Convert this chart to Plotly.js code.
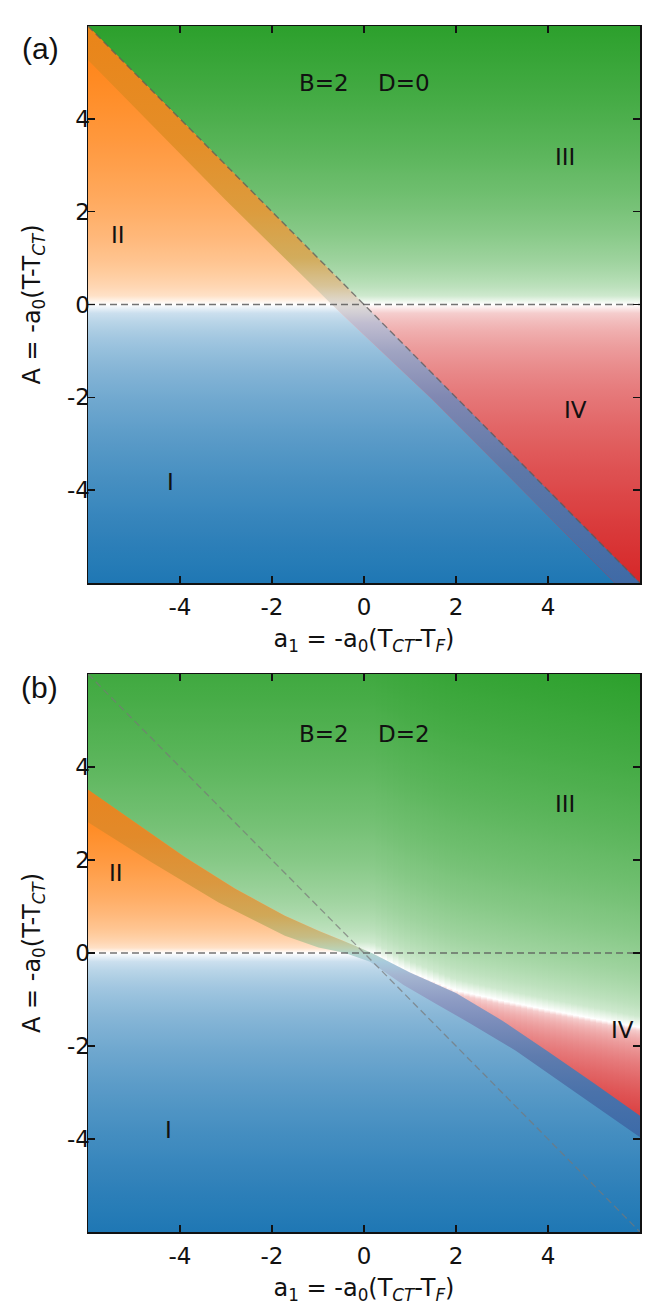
<!DOCTYPE html>
<html>
<head>
<meta charset="utf-8">
<script src="https://cdn.plot.ly/plotly-3.0.1.min.js"></script>
<style>html,body{margin:0;padding:0;background:#fff;}</style>
</head>
<body>
<div id="chart" style="width:654px;height:1308px;"></div>
<script>
// ---- shared axes -------------------------------------------------------
const axisRange = [-6, 6];
const tickVals = [-4, -2, 0, 2, 4];
const tickText = ['-4', '-2', '0', '2', '4'];

// ---- panel (a): B=2, D=0 ----------------------------------------------
// first-order line A = -a1 and inner edge of the coexistence band
const aOuterA1 = [-6, 6];
const aOuterA = [6, -6];
const aInnerA1 = [-6, -3.02, -0.7, 1.48, 5.45];
const aInnerA = [5.27, 2.26, 0, -2.04, -6];

// ---- panel (b): B=2, D=2 ----------------------------------------------
// upper and lower edges of the coexistence band
const bBandTopA1 = [-6, -3.89, -2.8, -1.72, -0.99, -0.27, 0.17, 1.0, 2.0, 3.0, 4.0, 5.0, 6.0];
const bBandTopA = [3.51, 2.06, 1.38, 0.80, 0.48, 0.19, 0.0, -0.42, -0.86, -1.45, -2.12, -2.8, -3.5];
const bBandLowA1 = [-6, -4.62, -3.17, -1.72, -0.99, -0.41, 0.13, 0.86, 1.58, 2.3, 3.3, 4.5, 6.0];
const bBandLowA = [2.81, 1.95, 1.09, 0.37, 0.12, 0.0, -0.19, -0.69, -1.10, -1.51, -2.10, -2.93, -3.96];
// second-order line between phases III and IV
const bLine34A1 = [0.17, 1.0, 2.0, 3.0, 4.0, 5.0, 6.0];
const bLine34A = [0.0, -0.41, -0.80, -1.02, -1.22, -1.41, -1.6];

// ---- labels --------------------------------------------------------------
const panelTags = ['(a)', '(b)'];
const paramText = ['B=2\u00a0\u00a0\u00a0\u00a0D=0', 'B=2\u00a0\u00a0\u00a0\u00a0D=2'];
const phaseNames = ['I', 'II', 'III', 'IV'];
const aPhaseA1 = [-4.2, -5.35, 4.37, 4.59];
const aPhaseA = [-3.83, 1.5, 3.18, -2.28];
const bPhaseA1 = [-4.24, -5.39, 4.37, 5.61];
const bPhaseA = [-3.81, 1.72, 3.2, -1.66];

// ---- colours -------------------------------------------------------------
const C_BLUE = [31, 119, 180];
const C_ORANGE = [255, 127, 14];
const C_GREEN = [44, 160, 44];
const C_RED = [214, 39, 40];
const aBandStopA = [-6, -3.5, -2, -1, -0.4, 0, 0.4, 1, 2, 3.5, 6];
const aBandStopC = ['#3f6aa6', '#5e78a8', '#8088b2', '#a0a4c2', '#c0bdd0', '#e0dcd8',
                    '#d8c498', '#d2ac5c', '#dc9c3e', '#e48e28', '#ea8418'];
const bBandStopA = [-4, -3, -2.2, -1.5, -1, -0.5, -0.2, 0, 0.1, 0.35, 0.8, 1.5, 2.5, 3.6];
const bBandStopC = ['#3b6aa8', '#4a72aa', '#5f7cae', '#7a8cba', '#8e9cc4', '#a4b4d0', '#a8cadc',
                    '#b4d6cc', '#bcd0b0', '#c6bc84', '#d0a858', '#da9840', '#e28a2a', '#e8841e'];
const FADE_POWER = 0.42;

// ---- helpers -------------------------------------------------------------
function interp(xs, ys, x) {
  if (x <= xs[0]) return ys[0];
  for (let i = 1; i < xs.length; i++) {
    if (x <= xs[i]) {
      const t = (x - xs[i - 1]) / (xs[i] - xs[i - 1]);
      return ys[i - 1] + t * (ys[i] - ys[i - 1]);
    }
  }
  return ys[ys.length - 1];
}
// boundary points between x0 and x1, keeping the boundary's own vertices
function edge(xs, ys, x0, x1) {
  const px = [x0], py = [interp(xs, ys, x0)];
  for (let i = 0; i < xs.length; i++) {
    if (xs[i] > x0 && xs[i] < x1) { px.push(xs[i]); py.push(ys[i]); }
  }
  px.push(x1); py.push(interp(xs, ys, x1));
  return [px, py];
}
// white -> colour ramp; intensity grows as a power of the distance from the fade line
function ramp(rgb, whiteAtLow) {
  const s = [];
  for (let i = 0; i <= 32; i++) {
    const f = i / 32;
    const d = whiteAtLow ? f : 1 - f;
    const a = Math.pow(d, FADE_POWER);
    s.push([f, 'rgb(' + rgb.map(v => Math.round(255 + (v - 255) * a)).join(',') + ')']);
  }
  return s;
}
function stopsScale(stopA, stopC) {
  const lo = stopA[0], hi = stopA[stopA.length - 1];
  return stopA.map((a, i) => [(a - lo) / (hi - lo), stopC[i]]);
}
function area(ax, xs, ys, scale, start, stop) {
  return {
    type: 'scatter', mode: 'none', xaxis: 'x' + ax, yaxis: 'y' + ax,
    x: xs.concat([xs[0]]), y: ys.concat([ys[0]]),
    fill: 'toself', line: {width: 0}, hoverinfo: 'skip', showlegend: false,
    fillgradient: {type: 'vertical', colorscale: scale, start: start, stop: stop}
  };
}
function dashed(ax, xs, ys, color, width) {
  return {
    type: 'scatter', mode: 'lines', xaxis: 'x' + ax, yaxis: 'y' + ax, x: xs, y: ys,
    line: {color: color, width: width, dash: '7px,4px'}, hoverinfo: 'skip', showlegend: false
  };
}

const traces = [];

// ================= panel (a) =================
{
  const ax = '';
  // phase I and III as half planes, phase II / IV and the band on top
  traces.push(area(ax, [-6, 6, 6, -6], [-6, -6, 0, 0], ramp(C_BLUE, false), -6, 0));
  traces.push(area(ax, [-6, 6, 6, -6], [0, 0, 6, 6], ramp(C_GREEN, true), 0, 6));
  // phase II up to the first-order line
  traces.push(area(ax, [-6, 0, -6], [0, 0, 6], ramp(C_ORANGE, true), 0, 6));
  // phase IV from the band's inner edge to the right
  const lowX = [], lowY = [];
  aInnerA1.forEach((x, i) => { if (aInnerA[i] <= 0) { lowX.push(x); lowY.push(aInnerA[i]); } });
  traces.push(area(ax, [6, 6].concat(lowX.slice().reverse()), [0, -6].concat(lowY.slice().reverse()),
    ramp(C_RED, false), -6, 0));
  // coexistence band
  traces.push(area(ax, aOuterA1.concat(aInnerA1.slice().reverse()),
    aOuterA.concat(aInnerA.slice().reverse()),
    stopsScale(aBandStopA, aBandStopC), aBandStopA[0], aBandStopA[aBandStopA.length - 1]));
  traces.push(dashed(ax, [-6, 6], [0, 0], 'rgba(90,90,90,0.85)', 1.5));
  traces.push(dashed(ax, aOuterA1, aOuterA, 'rgba(90,90,90,0.75)', 1.4));
}

// ================= panel (b) =================
{
  const ax = '2';
  traces.push(area(ax, [-6, 6, 6, -6], [-6, -6, 0, 0], ramp(C_BLUE, false), -6, 0));

  // phase III floor and its fade line
  const split = bLine34A1[0];
  const floorX = [], floorY = [];
  bBandTopA1.forEach((x, i) => { if (x < split) { floorX.push(x); floorY.push(bBandTopA[i]); } });
  bLine34A1.forEach((x, i) => { floorX.push(x); floorY.push(bLine34A[i]); });
  const fadeX = [-6].concat(bLine34A1), fadeY = [0].concat(bLine34A);

  const step = 0.125, pad = 0.03;
  for (let x0 = -6; x0 < 6 - 1e-9; x0 += step) {
    const x1 = Math.min(6, x0 + step + pad);
    const [ex, ey] = edge(floorX, floorY, x0, x1);
    const w = interp(fadeX, fadeY, (x0 + x1) / 2);
    traces.push(area(ax, ex.concat([x1, x0]), ey.map(v => v - 0.05).concat([6, 6]),
      ramp(C_GREEN, true), w, w + 7.6));
  }

  // phase II up to the band's upper edge
  const zx = bBandLowA1[bBandLowA.indexOf(0)];
  const [tx, ty] = edge(bBandTopA1, bBandTopA, -6, zx);
  traces.push(area(ax, [-6, zx].concat(tx.slice().reverse()), [0, 0].concat(ty.slice().reverse()),
    ramp(C_ORANGE, true), 0, 3.5));

  // phase IV between the III|IV line and the band
  for (let x0 = split; x0 < 6 - 1e-9; x0 += step) {
    const x1 = Math.min(6, x0 + step + pad);
    const [ux, uy] = edge(bLine34A1, bLine34A, x0, x1);
    const [lx, ly] = edge(bBandTopA1, bBandTopA, x0, x1);
    const w = interp(bLine34A1, bLine34A, (x0 + x1) / 2);
    traces.push(area(ax, ux.concat(lx.slice().reverse()),
      uy.concat(ly.slice().reverse().map(v => v - 0.05)),
      ramp(C_RED, false), w - 2.6, w));
  }

  // coexistence band
  traces.push(area(ax, bBandTopA1.concat(bBandLowA1.slice().reverse()),
    bBandTopA.concat(bBandLowA.slice().reverse()),
    stopsScale(bBandStopA, bBandStopC), bBandStopA[0], bBandStopA[bBandStopA.length - 1]));
  traces.push(dashed(ax, [-6, 6], [0, 0], 'rgba(90,90,90,0.85)', 1.5));
  traces.push(dashed(ax, [-6, 6], [6, -6], 'rgba(120,120,120,0.7)', 1.3));
}

// ---- layout --------------------------------------------------------------
const W = 654, H = 1308;
const plotL = 88, plotR = 640;
const aTop = 26, aBot = 583, bTop = 674, bBot = 1232;
const tickFont = {family: 'DejaVu Sans', size: 23, color: '#111'};
const titleFont = {family: 'DejaVu Sans', size: 24, color: '#111'};

function xAxis(yAnchor) {
  return {
    domain: [plotL / W, plotR / W], range: axisRange, anchor: yAnchor,
    tickvals: tickVals, ticktext: tickText, ticks: 'inside', ticklen: 7, tickwidth: 1.5,
    tickcolor: '#111', showline: true, linecolor: '#111', linewidth: 1.5, mirror: 'allticks',
    showgrid: false, zeroline: false, tickfont: tickFont, ticklabelstandoff: 3,
    title: {text: 'a<sub>1</sub> = -a<sub>0</sub>(T<sub><i>CT</i></sub>-T<sub><i>F</i></sub>)',
            font: titleFont, standoff: 11}
  };
}
function yAxis(xAnchor, top, bot) {
  return {
    domain: [1 - bot / H, 1 - top / H], range: axisRange, anchor: xAnchor,
    tickvals: tickVals, ticktext: tickText, ticks: 'inside', ticklen: 7, tickwidth: 1.5,
    tickcolor: '#111', showline: true, linecolor: '#111', linewidth: 1.5, mirror: 'allticks',
    showgrid: false, zeroline: false, tickfont: tickFont, ticklabelstandoff: -8,
    title: {text: 'A = -a<sub>0</sub>(T-T<sub><i>CT</i></sub>)', font: titleFont, standoff: 19}
  };
}

const annotations = [];
const labelFont = {family: 'DejaVu Sans', size: 23, color: '#111'};
[[aPhaseA1, aPhaseA, '', 0], [bPhaseA1, bPhaseA, '2', 1]].forEach(([px, py, ax, k]) => {
  phaseNames.forEach((n, i) => annotations.push({
    xref: 'x' + ax, yref: 'y' + ax, x: px[i], y: py[i], text: n, showarrow: false, font: labelFont
  }));
  annotations.push({xref: 'x' + ax, yref: 'y' + ax, x: 0, y: k ? 4.71 : 4.77, text: paramText[k],
    showarrow: false, font: labelFont});
});
const tagFont = {family: 'Liberation Sans', size: 30, color: '#111'};
annotations.push({xref: 'paper', yref: 'paper', x: 40 / W, y: 1 - 48 / H, text: panelTags[0],
  xanchor: 'center', yanchor: 'middle', showarrow: false, font: tagFont});
annotations.push({xref: 'paper', yref: 'paper', x: 39 / W, y: 1 - 687 / H, text: panelTags[1],
  xanchor: 'center', yanchor: 'middle', showarrow: false, font: tagFont});

const layout = {
  width: W, height: H, margin: {l: 0, r: 0, t: 0, b: 0},
  paper_bgcolor: '#fff', plot_bgcolor: '#fff', showlegend: false,
  xaxis: xAxis('y'), yaxis: yAxis('x', aTop, aBot),
  xaxis2: xAxis('y2'), yaxis2: yAxis('x2', bTop, bBot),
  annotations: annotations
};

Plotly.newPlot('chart', traces, layout, {displayModeBar: false, staticPlot: true});
</script>
</body>
</html>
